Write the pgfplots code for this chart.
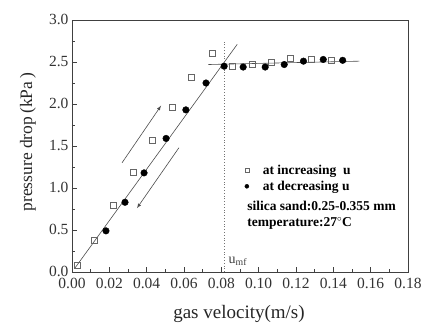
\documentclass[border=0pt]{standalone}
\usepackage{pgfplots}
\pgfplotsset{compat=1.18}
\usepackage{fontspec}
\setmainfont{Liberation Serif}
\begin{document}
\begin{tikzpicture}[x=1pt,y=1pt]
\useasboundingbox (-72,-55) rectangle (353,272);
\begin{axis}[
  at={(0,0)}, anchor=south west,
  width=336pt, height=252pt, scale only axis,
  xmin=0, xmax=0.18, ymin=0, ymax=3.0,
  xtick={0,0.02,...,0.18}, ytick={0,0.5,...,3.0},
  minor x tick num=1, minor y tick num=1,
  xtick pos=left, ytick pos=left,
  tick align=inside,
  major tick length=5pt, minor tick length=3pt,
  axis line style={draw=black!75, line width=0.8pt},
  tick style={black!75, line width=0.6pt},
  /pgf/number format/assume math mode=true,
  x tick label style={/pgf/number format/.cd, fixed, fixed zerofill, precision=2, /tikz/.cd, yshift=-3pt},
  y tick label style={/pgf/number format/.cd, fixed, fixed zerofill, precision=1, /tikz/.cd, yshift=1pt},
  ticklabel style={font=\fontsize{15.5}{17}\selectfont, text=black!80},
  scaled x ticks=false,
  xlabel={gas velocity(m/s)},
  ylabel={pressure drop\,(kPa\,)},
  xlabel style={font=\fontsize{19}{21}\selectfont, text=black!85, at={(axis description cs:0.497,-0.167)}, anchor=center},
  ylabel style={font=\fontsize{17.5}{19}\selectfont, text=black!85, at={(axis description cs:-0.131,0.515)}, anchor=center, rotate=0},
  legend style={draw=none, fill=none, at={(axis cs:0.0925,1.30)}, anchor=north west,
     font=\bfseries\fontsize{13.5}{15}\selectfont, row sep=1pt, inner sep=0pt},
  legend cell align=left,
  legend image code/.code={\draw[#1, mark size=2pt] plot coordinates {(0pt,0pt)};},
  /tikz/every even column/.append style={column sep=0pt},
  /tikz/every odd column/.append style={column sep=12pt},
]
% fit lines
\addplot[black!70, line width=0.6pt, forget plot] coordinates {(0.0015,0.045) (0.0885,2.71)};
\addplot[black!70, line width=0.6pt, forget plot] coordinates {(0.073,2.47) (0.154,2.51)};
% u_mf dotted line
\addplot[black!55, dotted, line width=0.8pt, forget plot] coordinates {(0.0815,0) (0.0815,2.74)};
% arrows
\addplot[black!70, line width=0.6pt, -{latex}, forget plot] coordinates {(0.0268,1.30) (0.0477,1.98)};
\addplot[black!70, line width=0.6pt, -{latex}, forget plot] coordinates {(0.0573,1.48) (0.0348,0.76)};
% increasing u
\addplot[only marks, mark=square, mark size=3pt, mark options={draw=black!60, line width=0.5pt, fill=white}] coordinates {
 (0.003,0.08) (0.0118,0.38) (0.022,0.79) (0.0327,1.19) (0.0429,1.57) (0.0536,1.96)
 (0.0638,2.32) (0.075,2.61) (0.0858,2.45) (0.0965,2.47) (0.1067,2.50) (0.117,2.54)
 (0.128,2.53) (0.139,2.52)};
\addlegendentry{at increasing\ \ u}
% decreasing u
\addplot[only marks, mark=*, mark size=3.3pt, mark options={draw=black, fill=black}] coordinates {
 (0.0182,0.49) (0.0284,0.83) (0.0386,1.18) (0.0504,1.59) (0.061,1.93) (0.0718,2.25)
 (0.0815,2.45) (0.0917,2.44) (0.1035,2.44) (0.1137,2.47) (0.124,2.51) (0.1346,2.53)
 (0.145,2.52)};
\addlegendentry{at decreasing u}
\node[anchor=base west, font=\bfseries\fontsize{13.5}{15}\selectfont, inner sep=0pt] at (axis cs:0.0938,0.738) {silica sand:0.25-0.355 mm};
\node[anchor=base west, font=\bfseries\fontsize{13.5}{15}\selectfont, inner sep=0pt] at (axis cs:0.0938,0.536) {temperature:27$^{\circ}$C};
\node[anchor=base west, font=\fontsize{14}{15}\selectfont, text=black!75, inner sep=0pt] at (axis cs:0.0838,0.10) {u\textsubscript{mf}};
\end{axis}
\end{tikzpicture}
\end{document}
